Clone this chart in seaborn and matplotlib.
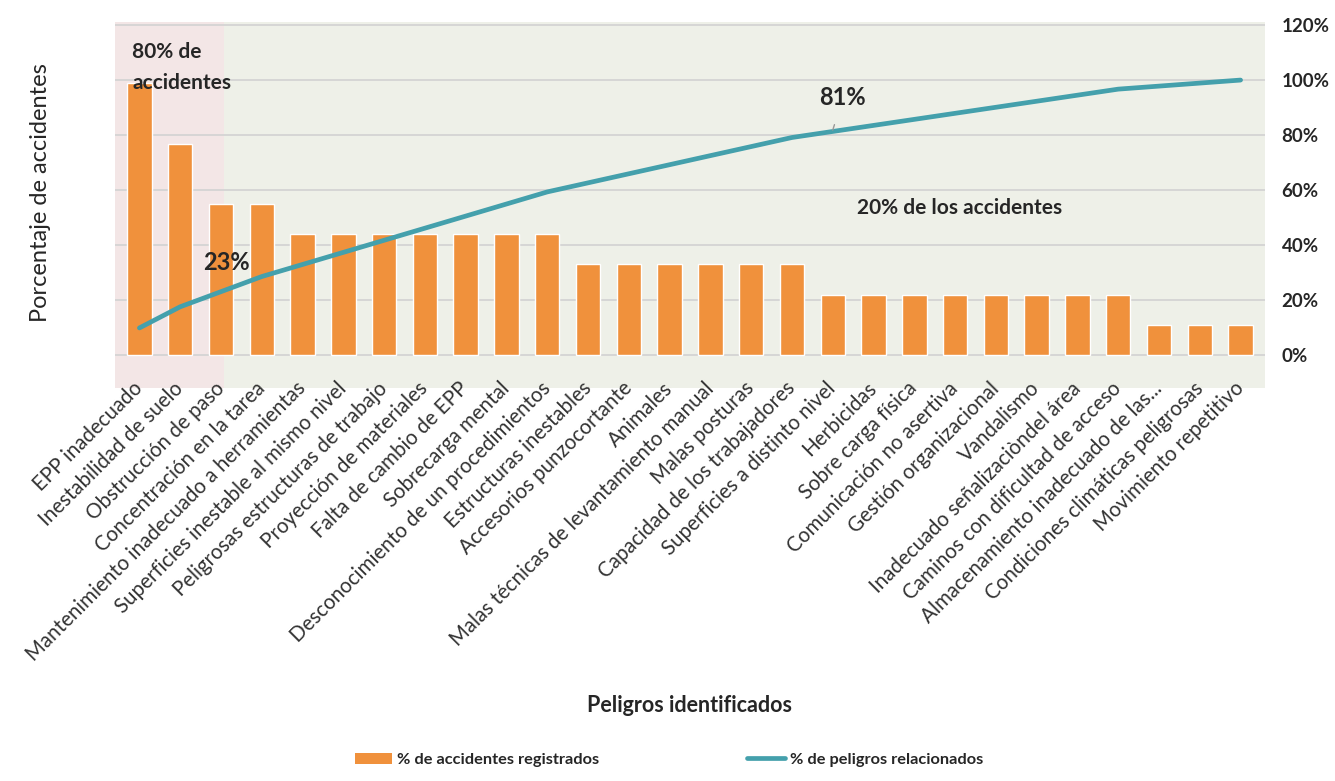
import numpy as np
import pandas as pd
import matplotlib
matplotlib.use("Agg")
import matplotlib.pyplot as plt
from matplotlib.patches import Patch
from matplotlib.lines import Line2D
import seaborn as sns

# Hazards identified, ordered by number of recorded accidents (Pareto order)
peligros = [
    "EPP inadecuado",
    "Inestabilidad de suelo",
    "Obstrucción de paso",
    "Concentración en la tarea",
    "Mantenimiento inadecuado a herramientas",
    "Superficies inestable al mismo nivel",
    "Peligrosas estructuras de trabajo",
    "Proyección de materiales",
    "Falta de cambio de EPP",
    "Sobrecarga mental",
    "Desconocimiento de un procedimientos",
    "Estructuras inestables",
    "Accesorios punzocortante",
    "Animales",
    "Malas técnicas de levantamiento manual",
    "Malas posturas",
    "Capacidad de los trabajadores",
    "Superficies a distinto nivel",
    "Herbicidas",
    "Sobre carga física",
    "Comunicación no asertiva",
    "Gestión organizacional",
    "Vandalismo",
    "Inadecuado señalizaciòndel área",
    "Caminos con dificultad de acceso",
    "Almacenamiento inadecuado de las...",
    "Condiciones climáticas peligrosas",
    "Movimiento repetitivo",
]

# Accidents recorded per hazard
accidentes = [9, 7, 5, 5, 4, 4, 4, 4, 4, 4, 4, 3, 3, 3, 3, 3, 3,
              2, 2, 2, 2, 2, 2, 2, 2, 1, 1, 1]

right_ticks = [0, 0.2, 0.4, 0.6, 0.8, 1.0, 1.2]
right_tick_labels = ["0%", "20%", "40%", "60%", "80%", "100%", "120%"]

total = sum(accidentes)
pct_accidentes = [100.0 * a / total for a in accidentes]           # share of accidents (%)
acumulado = list(np.cumsum(accidentes) / total)                     # cumulative share (0-1)

df = pd.DataFrame({"peligro": peligros, "pct": pct_accidentes,
                   "pos": np.arange(len(peligros)), "acum": acumulado})

sns.set_theme(style="white")
plt.rcParams["font.family"] = ["Lato", "DejaVu Sans"]

BAR = "#F0913C"
LINE = "#44A0AC"
PINK = "#F3E6E6"
GREEN = "#EEF0E8"
GRID = "#D4D4D4"
TXT = "#262626"

fig = plt.figure(figsize=(13.35, 7.81), dpi=100)
ax = fig.add_axes([0.0861, 0.503, 0.8615, 0.4688])

# shaded zones: vital few (left) and trivial many (right)
ax.axvspan(-0.6, 2.07, color=PINK, zorder=0, lw=0)
ax.axvspan(2.07, 27.6, color=GREEN, zorder=0, lw=0)

sns.barplot(data=df, x="peligro", y="pct", order=peligros, color=BAR,
            width=0.6, saturation=1, ax=ax, zorder=3)

# left axis in % of accidents: 12 % at the top gridline
ylo, yhi = -0.12, 1.211
ax.set_ylim(ylo * 10, yhi * 10)
ax.set_xlim(-0.6, 27.6)
ax.set_yticks([t * 10 for t in right_ticks])
ax.yaxis.grid(True, color=GRID, lw=1.3, zorder=1)
ax.set_axisbelow(True)
ax.tick_params(axis="y", left=False, right=False, length=0, labelleft=False)
ax.tick_params(axis="x", bottom=False, length=0, pad=-2)
for s in ax.spines.values():
    s.set_visible(False)

ax.set_xticks(range(len(peligros)))
ax.set_xticklabels(peligros, rotation=45, ha="right", va="center",
                   rotation_mode="anchor", fontsize=14.8, color="#333333")
ax.set_xlabel("Peligros identificados", fontsize=15.5, fontweight="bold",
              color=TXT)
ax.xaxis.set_label_coords(0.5, -0.866)
ax.xaxis.label.set_va("center")
ax.set_ylabel("Porcentaje de accidentes", fontsize=17, color=TXT)
ax.yaxis.set_label_coords(-0.065, 0.535)
ax.yaxis.label.set_va("center")

# cumulative line on the right axis
ax2 = ax.twinx()
sns.lineplot(data=df, x="pos", y="acum", color=LINE, lw=3.4, ax=ax2,
             solid_capstyle="round")
ax2.set_ylim(ylo, yhi)
ax2.set_xlim(-0.6, 27.6)
ax2.set_yticks(right_ticks)
ax2.set_yticklabels(right_tick_labels, fontsize=13.5, fontweight="bold", color=TXT)
ax2.tick_params(axis="y", left=False, right=False, length=0, pad=12)
ax2.set_ylabel("")
ax2.set_xlabel("")
for s in ax2.spines.values():
    s.set_visible(False)

# annotations
ax2.text(-0.17, 1.14, "80% de\naccidentes", ha="left", va="top",
         fontsize=15, fontweight="bold", color=TXT, linespacing=1.7)
ax2.text(2.14, acumulado[2] + 0.105, f"{acumulado[2]*100:.0f}%", ha="center",
         va="center", fontsize=17, fontweight="bold", color=TXT)
ax2.annotate(f"{acumulado[17]*100:.0f}%", xy=(17.0, acumulado[17] + 0.005),
             xytext=(17.25, 0.935), ha="center", va="center", fontsize=17,
             fontweight="bold", color=TXT,
             arrowprops=dict(arrowstyle="-", color="#999999", lw=1,
                             shrinkA=9, shrinkB=0))
ax2.text(17.6, 0.535, "20% de los accidentes", ha="left", va="center",
         fontsize=15, fontweight="bold", color=TXT)

handles = [Patch(facecolor=BAR, edgecolor="none"),
           Line2D([0], [0], color=LINE, lw=3.4)]
fig.legend(handles, ["% de accidentes registrados", "% de peligros relacionados"],
           loc="center", bbox_to_anchor=(0.501, 0.027), ncol=2, frameon=False,
           handlelength=2.3, handletextpad=0.3, columnspacing=9.0,
           prop={"weight": "bold", "size": 11.8})

fig.savefig("out.png", dpi=100)
